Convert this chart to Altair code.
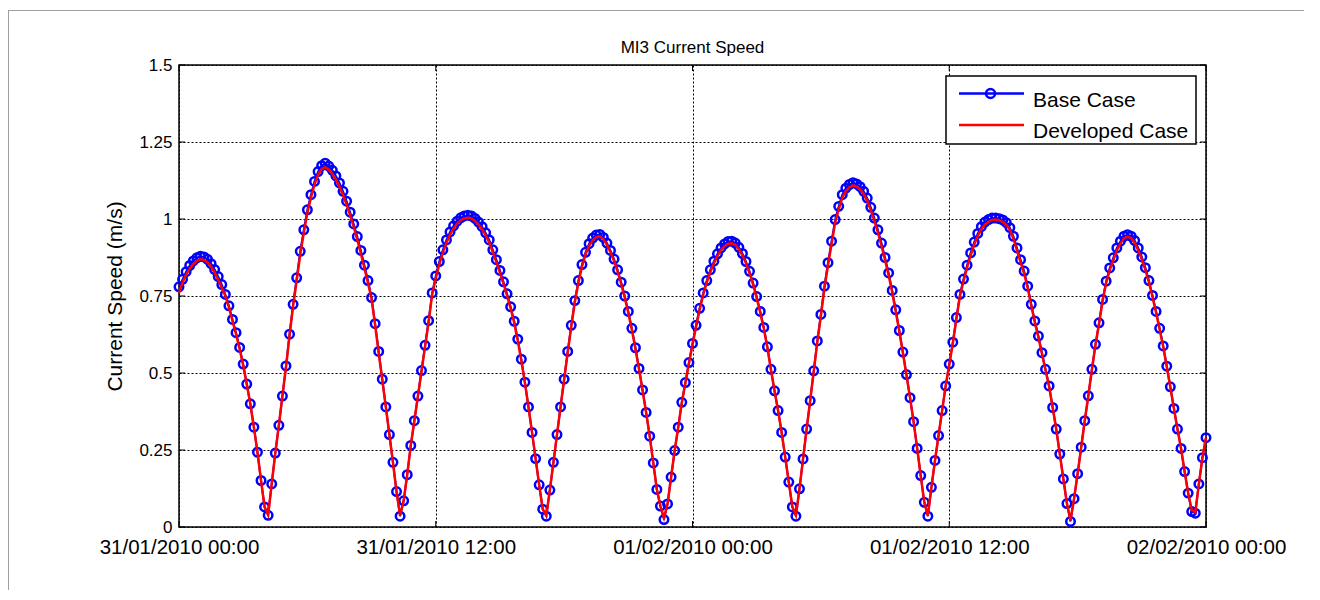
import altair as alt
import pandas as pd

# ---- data (10-minute samples) ----
base_case = [
    0.780, 0.804, 0.829, 0.849, 0.864, 0.874, 0.879, 0.877, 0.869, 0.855,
    0.836, 0.813, 0.787, 0.755, 0.718, 0.674, 0.631, 0.583, 0.529, 0.464,
    0.400, 0.324, 0.243, 0.151, 0.065, 0.038, 0.140, 0.240, 0.330, 0.425,
    0.523, 0.626, 0.723, 0.809, 0.895, 0.965, 1.030, 1.079, 1.122, 1.154,
    1.173, 1.181, 1.172, 1.158, 1.140, 1.117, 1.090, 1.058, 1.022, 0.984,
    0.943, 0.898, 0.850, 0.800, 0.745, 0.660, 0.570, 0.480, 0.390, 0.300,
    0.210, 0.115, 0.035, 0.085, 0.170, 0.265, 0.345, 0.425, 0.508, 0.590,
    0.670, 0.760, 0.815, 0.862, 0.900, 0.932, 0.958, 0.978, 0.993, 1.004,
    1.010, 1.012, 1.010, 1.002, 0.990, 0.975, 0.955, 0.932, 0.900, 0.868,
    0.833, 0.796, 0.757, 0.715, 0.668, 0.610, 0.545, 0.470, 0.390, 0.307,
    0.222, 0.137, 0.058, 0.035, 0.120, 0.210, 0.300, 0.390, 0.480, 0.570,
    0.655, 0.735, 0.800, 0.852, 0.892, 0.920, 0.938, 0.948, 0.950, 0.940,
    0.922, 0.898, 0.870, 0.835, 0.795, 0.750, 0.700, 0.645, 0.582, 0.515,
    0.445, 0.372, 0.295, 0.208, 0.122, 0.068, 0.024, 0.075, 0.162, 0.248,
    0.324, 0.405, 0.469, 0.534, 0.596, 0.655, 0.710, 0.760, 0.800, 0.835,
    0.863, 0.887, 0.906, 0.919, 0.927, 0.928, 0.922, 0.908, 0.888, 0.862,
    0.830, 0.792, 0.748, 0.700, 0.648, 0.585, 0.512, 0.442, 0.378, 0.307,
    0.227, 0.146, 0.065, 0.035, 0.124, 0.221, 0.318, 0.410, 0.507, 0.604,
    0.690, 0.782, 0.858, 0.928, 0.998, 1.041, 1.079, 1.100, 1.112, 1.118,
    1.114, 1.105, 1.090, 1.068, 1.038, 1.003, 0.965, 0.922, 0.875, 0.825,
    0.768, 0.705, 0.638, 0.568, 0.495, 0.420, 0.342, 0.255, 0.167, 0.080,
    0.035, 0.129, 0.216, 0.297, 0.378, 0.458, 0.529, 0.600, 0.680, 0.755,
    0.805, 0.850, 0.890, 0.925, 0.953, 0.975, 0.990, 0.998, 1.003, 1.003,
    1.001, 0.997, 0.988, 0.972, 0.944, 0.906, 0.868, 0.831, 0.782, 0.723,
    0.669, 0.620, 0.566, 0.512, 0.458, 0.388, 0.318, 0.237, 0.156, 0.076,
    0.018, 0.092, 0.173, 0.259, 0.345, 0.426, 0.512, 0.593, 0.663, 0.739,
    0.798, 0.841, 0.874, 0.906, 0.928, 0.944, 0.949, 0.944, 0.930, 0.906,
    0.877, 0.842, 0.800, 0.752, 0.700, 0.645, 0.588, 0.522, 0.455, 0.385,
    0.318, 0.255, 0.180, 0.110, 0.050, 0.045, 0.140, 0.225, 0.290,
]

developed_case = [
    0.760, 0.794, 0.819, 0.839, 0.854, 0.864, 0.869, 0.867, 0.859, 0.845,
    0.826, 0.803, 0.777, 0.750, 0.713, 0.669, 0.626, 0.578, 0.524, 0.464,
    0.400, 0.324, 0.243, 0.151, 0.065, 0.040, 0.140, 0.240, 0.330, 0.425,
    0.518, 0.621, 0.718, 0.799, 0.885, 0.955, 1.020, 1.069, 1.112, 1.144,
    1.162, 1.168, 1.160, 1.146, 1.128, 1.105, 1.078, 1.047, 1.012, 0.974,
    0.933, 0.888, 0.840, 0.792, 0.740, 0.655, 0.565, 0.478, 0.390, 0.300,
    0.210, 0.115, 0.038, 0.085, 0.170, 0.265, 0.345, 0.425, 0.505, 0.585,
    0.665, 0.755, 0.807, 0.853, 0.891, 0.923, 0.949, 0.969, 0.985, 0.996,
    1.002, 1.004, 1.002, 0.994, 0.982, 0.967, 0.947, 0.924, 0.892, 0.860,
    0.825, 0.789, 0.751, 0.710, 0.663, 0.605, 0.540, 0.468, 0.390, 0.307,
    0.222, 0.137, 0.058, 0.038, 0.120, 0.210, 0.300, 0.390, 0.478, 0.566,
    0.650, 0.730, 0.793, 0.845, 0.885, 0.913, 0.931, 0.941, 0.944, 0.935,
    0.916, 0.892, 0.864, 0.829, 0.789, 0.745, 0.695, 0.640, 0.578, 0.512,
    0.443, 0.371, 0.295, 0.208, 0.122, 0.068, 0.030, 0.075, 0.162, 0.248,
    0.324, 0.403, 0.467, 0.531, 0.592, 0.650, 0.705, 0.754, 0.794, 0.828,
    0.856, 0.880, 0.899, 0.912, 0.920, 0.921, 0.916, 0.902, 0.882, 0.856,
    0.824, 0.787, 0.743, 0.696, 0.644, 0.582, 0.510, 0.442, 0.378, 0.307,
    0.227, 0.146, 0.065, 0.038, 0.124, 0.221, 0.318, 0.410, 0.505, 0.600,
    0.685, 0.776, 0.850, 0.919, 0.988, 1.031, 1.069, 1.090, 1.103, 1.109,
    1.105, 1.096, 1.081, 1.059, 1.029, 0.994, 0.956, 0.913, 0.866, 0.817,
    0.762, 0.700, 0.634, 0.565, 0.493, 0.420, 0.342, 0.255, 0.167, 0.080,
    0.038, 0.129, 0.216, 0.297, 0.378, 0.458, 0.527, 0.596, 0.675, 0.750,
    0.798, 0.842, 0.882, 0.917, 0.945, 0.967, 0.982, 0.991, 0.997, 0.998,
    0.996, 0.991, 0.981, 0.965, 0.936, 0.898, 0.860, 0.823, 0.776, 0.718,
    0.664, 0.616, 0.562, 0.509, 0.456, 0.388, 0.318, 0.237, 0.156, 0.076,
    0.022, 0.092, 0.173, 0.259, 0.345, 0.426, 0.510, 0.590, 0.659, 0.734,
    0.792, 0.834, 0.866, 0.898, 0.920, 0.937, 0.943, 0.938, 0.923, 0.898,
    0.869, 0.835, 0.794, 0.747, 0.696, 0.641, 0.585, 0.520, 0.454, 0.385,
    0.318, 0.255, 0.180, 0.110, 0.055, 0.048, 0.140, 0.225, 0.290,
]

series_names = ["Base Case", "Developed Case"]
series_colors = ["#0000ff", "#ff0000"]
y_ticks = [0, 0.25, 0.5, 0.75, 1, 1.25, 1.5]
x_tick_times = ["2010-01-31 00:00", "2010-01-31 12:00", "2010-02-01 00:00",
                "2010-02-01 12:00", "2010-02-02 00:00"]
start_time = "2010-01-31 00:00"
sample_step = "10min"

# ---- tables ----
base_df = pd.DataFrame({
    "time": pd.date_range(start_time, periods=len(base_case), freq=sample_step),
    "speed": base_case,
})
dev_df = pd.DataFrame({
    "time": pd.date_range(start_time, periods=len(developed_case), freq=sample_step),
    "speed": developed_case,
})
ytick_df = pd.DataFrame({"speed": y_ticks})
xtick_df = pd.DataFrame({"time": pd.to_datetime(x_tick_times)})
one_row = pd.DataFrame({"k": [0]})


def dt(s):
    t = pd.Timestamp(s)
    return alt.DateTime(year=t.year, month=t.month, date=t.day,
                        hours=t.hour, minutes=t.minute)


FONT = "Liberation Sans"
W, H = 1027, 462
TICK = 6

x_enc = alt.X(
    "time:T",
    scale=alt.Scale(domain=[dt(x_tick_times[0]), dt(x_tick_times[-1])]),
    axis=alt.Axis(
        values=[dt(t) for t in x_tick_times],
        format="%d/%m/%Y %H:%M",
        title=None,
        labelFontSize=20.5,
        labelPadding=10,
        labelFlush=False,
        labelOverlap=False,
        labelBound=False,
    ),
)
y_enc = alt.Y(
    "speed:Q",
    scale=alt.Scale(domain=[0, 1.5], nice=False, zero=False),
    axis=alt.Axis(
        values=y_ticks,
        format=".2~f",
        title="Current Speed (m/s)",
        labelFontSize=17,
        labelPadding=7,
        titleFontSize=21,
        titlePadding=13,
    ),
)

# grey edge of the figure window (top and left, as in the reference)
frame_top = alt.Chart(one_row).mark_rule(color="#a0a0a0", strokeWidth=1).encode(
    x=alt.value(-171), x2=alt.value(1125), y=alt.value(-54.5))
frame_left = alt.Chart(one_row).mark_rule(color="#a0a0a0", strokeWidth=1).encode(
    x=alt.value(-170.5), y=alt.value(-54.5), y2=alt.value(525))

# inward tick marks on all four sides (MATLAB box style)
tick_left = alt.Chart(ytick_df).mark_rule(color="black", strokeWidth=1).encode(
    y=y_enc, x=alt.value(0), x2=alt.value(TICK))
tick_right = alt.Chart(ytick_df).mark_rule(color="black", strokeWidth=1).encode(
    y=y_enc, x=alt.value(W - TICK), x2=alt.value(W))
tick_bottom = alt.Chart(xtick_df).mark_rule(color="black", strokeWidth=1).encode(
    x=x_enc, y=alt.value(H - TICK), y2=alt.value(H))
tick_top = alt.Chart(xtick_df).mark_rule(color="black", strokeWidth=1).encode(
    x=x_enc, y=alt.value(0), y2=alt.value(TICK))

blue_line = alt.Chart(base_df).mark_line(
    color=series_colors[0], strokeWidth=2
).encode(x=x_enc, y=y_enc)

blue_points = alt.Chart(base_df).mark_point(
    shape="circle", filled=False, color=series_colors[0],
    size=72, strokeWidth=2.5, opacity=1
).encode(x=x_enc, y=y_enc)

red_line = alt.Chart(dev_df).mark_line(
    color=series_colors[1], strokeWidth=2.5
).encode(x=x_enc, y=y_enc)

# ---- legend box (top right, inside the axes) ----
leg_box = alt.Chart(one_row).mark_rect(
    fill="white", stroke="black", strokeWidth=1.5
).encode(x=alt.value(767), x2=alt.value(1017), y=alt.value(11), y2=alt.value(79))

leg_line_base = alt.Chart(one_row).mark_rule(color=series_colors[0], strokeWidth=2.5).encode(
    x=alt.value(780), x2=alt.value(845), y=alt.value(28.5))
leg_mark_base = alt.Chart(one_row).mark_point(
    shape="circle", filled=False, color=series_colors[0], size=80, strokeWidth=2.5, opacity=1
).encode(x=alt.value(811.5), y=alt.value(28.5))
leg_text_base = alt.Chart(one_row).mark_text(
    align="left", baseline="alphabetic", font=FONT, fontSize=21, color="black"
).encode(x=alt.value(854), y=alt.value(41.5), text=alt.value(series_names[0]))

leg_line_dev = alt.Chart(one_row).mark_rule(color=series_colors[1], strokeWidth=2.5).encode(
    x=alt.value(780), x2=alt.value(845), y=alt.value(60))
leg_text_dev = alt.Chart(one_row).mark_text(
    align="left", baseline="alphabetic", font=FONT, fontSize=21, color="black"
).encode(x=alt.value(854), y=alt.value(72.5), text=alt.value(series_names[1]))

chart = alt.layer(
    frame_top, frame_left, tick_left, tick_right, tick_bottom, tick_top,
    blue_line, blue_points, red_line,
    leg_box, leg_line_base, leg_mark_base, leg_text_base, leg_line_dev, leg_text_dev,
).properties(
    width=W,
    height=H,
    title=alt.TitleParams("MI3 Current Speed", fontSize=17, fontWeight="normal",
                          font=FONT, color="black", frame="group", anchor="middle",
                          offset=-47),
    padding={"left": 171, "top": 57, "right": 106, "bottom": 65},
    autosize=alt.AutoSizeParams(type="none"),
    background="white",
).configure_view(
    stroke="black", strokeWidth=1.5
).configure_axis(
    labelFont=FONT, titleFont=FONT, labelColor="black", titleColor="black",
    titleFontWeight="normal", grid=True, gridColor="black", gridDash=[2, 2],
    gridOpacity=1, gridWidth=1, domain=False, ticks=False, tickSize=0,
)

chart.save("out.html", embed_options={"renderer": "svg", "actions": False})
